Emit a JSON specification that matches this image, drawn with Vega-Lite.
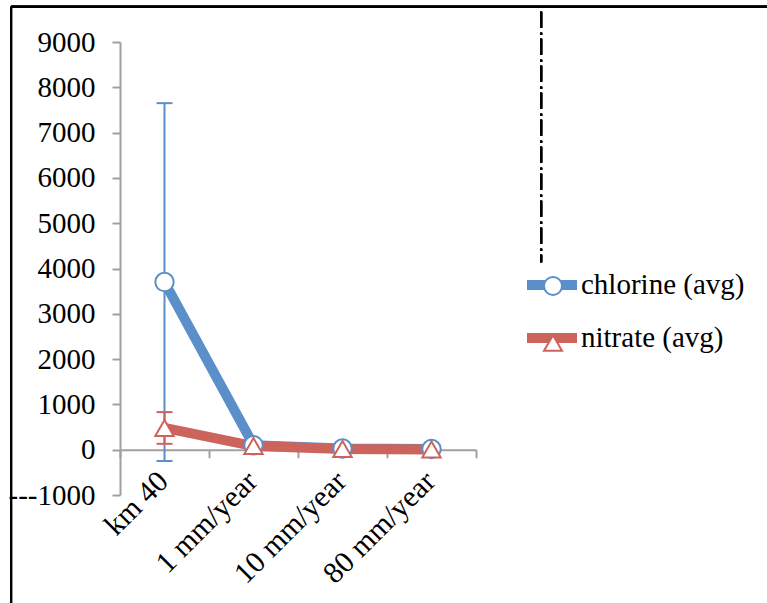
{
  "$schema": "https://vega.github.io/schema/vega-lite/v6.json",
  "autosize": {"type": "none"},
  "padding": {"left": 120, "top": 42, "right": 291, "bottom": 108},
  "width": 356,
  "height": 453,
  "background": "white",
  "config": {
    "view": {"stroke": null},
    "font": "Liberation Serif",
    "axis": {
      "grid": false,
      "domainColor": "#a0a0a0",
      "domainWidth": 2,
      "tickColor": "#a0a0a0",
      "tickWidth": 2,
      "tickSize": 8,
      "labelFont": "Liberation Serif",
      "labelFontSize": 29,
      "labelColor": "black",
      "title": null
    },
    "legend": {
      "labelFont": "Liberation Serif",
      "labelFontSize": 29,
      "labelColor": "black",
      "labelLimit": 0,
      "title": null
    }
  },
  "data": {
    "values": [
      {"site": "km 40", "series": "chlorine (avg)", "marker": "chlorine (avg)", "value": 3700, "lo": -250, "hi": 7650},
      {"site": "1 mm/year", "series": "chlorine (avg)", "marker": "chlorine (avg)", "value": 100},
      {"site": "10 mm/year", "series": "chlorine (avg)", "marker": "chlorine (avg)", "value": 25},
      {"site": "80 mm/year", "series": "chlorine (avg)", "marker": "chlorine (avg)", "value": 15},
      {"site": "km 40", "series": "nitrate (avg)", "marker": "nitrate (avg)", "value": 480, "lo": 130, "hi": 830},
      {"site": "1 mm/year", "series": "nitrate (avg)", "marker": "nitrate (avg)", "value": 80},
      {"site": "10 mm/year", "series": "nitrate (avg)", "marker": "nitrate (avg)", "value": 15},
      {"site": "80 mm/year", "series": "nitrate (avg)", "marker": "nitrate (avg)", "value": 5}
    ]
  },
  "resolve": {"scale": {"x": "independent"}, "axis": {"x": "independent"}},
  "layer": [
    {
      "layer": [
        {
          "mark": {"type": "rule", "color": "black", "strokeWidth": 2},
          "encoding": {
            "x": {"datum": -0.306, "type": "quantitative", "scale": {"domain": [0, 1]}, "axis": null},
            "x2": {"datum": 1.82},
            "y": {"datum": 9780, "type": "quantitative"}
          }
        },
        {
          "mark": {"type": "rule", "color": "black", "strokeWidth": 2},
          "encoding": {
            "x": {"datum": -0.306, "type": "quantitative", "scale": {"domain": [0, 1]}, "axis": null},
            "y": {"datum": 9780, "type": "quantitative"},
            "y2": {"datum": -4000}
          }
        },
        {
          "mark": {"type": "rule", "color": "black", "strokeWidth": 2, "strokeDash": [16, 5, 2, 4]},
          "encoding": {
            "x": {"datum": 1.183, "type": "quantitative", "scale": {"domain": [0, 1]}, "axis": null},
            "y": {"datum": 9670, "type": "quantitative"},
            "y2": {"datum": 4140}
          }
        }
      ]
    },
    {
      "encoding": {
        "x": {
          "field": "site",
          "type": "nominal",
          "sort": null,
          "scale": {"paddingInner": 0, "paddingOuter": 0},
          "axis": {"labelAngle": -45, "tickBand": "extent", "offset": -45.3, "labelPadding": 8, "labelOffset": -12, "labelFontSize": 30}
        },
        "y": {
          "type": "quantitative",
          "scale": {"domain": [-1000, 9000], "nice": false},
          "axis": {
            "values": [-1000, 0, 1000, 2000, 3000, 4000, 5000, 6000, 7000, 8000, 9000],
            "labelExpr": "datum.value == -1000 ? '---1000' : format(datum.value, 'd')",
            "labelPadding": 17
          }
        }
      },
      "layer": [
        {
          "transform": [{"filter": "isValid(datum.hi)"}],
          "mark": {"type": "rule", "strokeWidth": 2, "opacity": 1},
          "encoding": {
            "y": {"field": "lo", "type": "quantitative"},
            "y2": {"field": "hi"},
            "color": {"field": "series", "type": "nominal"}
          }
        },
        {
          "transform": [{"filter": "isValid(datum.hi)"}],
          "mark": {"type": "tick", "thickness": 2, "size": 16, "opacity": 1},
          "encoding": {
            "y": {"field": "lo", "type": "quantitative"},
            "color": {"field": "series", "type": "nominal"}
          }
        },
        {
          "transform": [{"filter": "isValid(datum.hi)"}],
          "mark": {"type": "tick", "thickness": 2, "size": 16, "opacity": 1},
          "encoding": {
            "y": {"field": "hi", "type": "quantitative"},
            "color": {"field": "series", "type": "nominal"}
          }
        },
        {
          "mark": {"type": "line", "strokeWidth": 10, "opacity": 1},
          "encoding": {
            "y": {"field": "value", "type": "quantitative"},
            "color": {
              "field": "series",
              "type": "nominal",
              "scale": {"range": ["#5b8fc9", "#cd645c"]},
              "legend": {
                "orient": "none",
                "legendX": 402,
                "legendY": 213,
                "symbolType": "stroke",
                "symbolSize": 2500,
                "symbolStrokeWidth": 10,
                "symbolOpacity": 1,
                "labelOffset": -1,
                "rowPadding": 3
              }
            }
          }
        },
        {
          "mark": {"type": "point", "filled": false, "fill": "white", "strokeWidth": 2, "opacity": 1, "size": 340},
          "encoding": {
            "y": {"field": "value", "type": "quantitative"},
            "stroke": {
              "field": "marker",
              "type": "nominal",
              "scale": {"range": ["#5b8fc9", "#cd645c"]},
              "legend": {
                "orient": "none",
                "legendX": 423,
                "legendY": 234,
                "symbolSize": 324,
                "symbolFillColor": "white",
                "symbolStrokeWidth": 2,
                "symbolOpacity": 1,
                "labelExpr": "''",
                "labelFontSize": 1,
                "labelOffset": 0,
                "rowPadding": 32
              }
            },
            "shape": {
              "field": "marker",
              "type": "nominal",
              "scale": {"range": ["circle", "triangle-up"]}
            }
          }
        }
      ]
    }
  ]
}
